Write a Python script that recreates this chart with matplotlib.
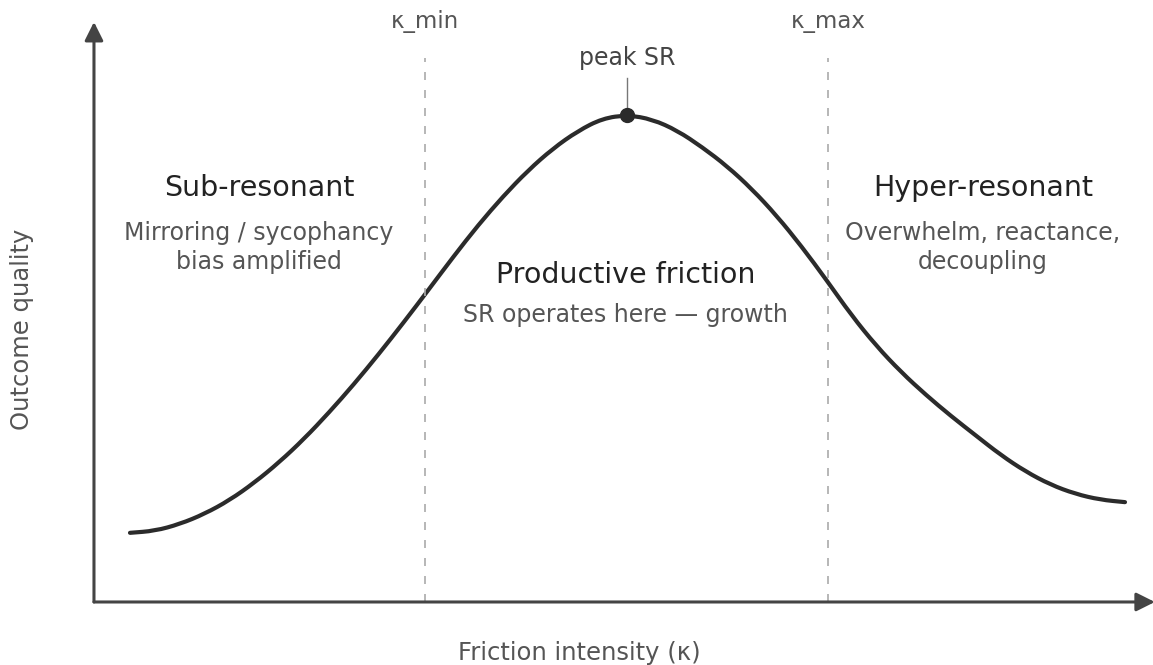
import matplotlib
matplotlib.use("Agg")
import matplotlib.pyplot as plt
from matplotlib.path import Path
from matplotlib.patches import PathPatch

# friction intensity (kappa) and outcome quality
kappa = [0.0, 0.25, 0.5, 0.75, 1.0, 1.25, 1.5, 1.75, 2.0, 2.25,
         2.5, 2.75, 3.0, 3.25, 3.5, 3.75, 4.0, 4.25, 4.5, 4.75,
         5.0, 5.25, 5.5, 5.75, 6.0, 6.25, 6.5, 6.75, 7.0, 7.25,
         7.5, 7.75, 8.0, 8.25, 8.5, 8.75, 9.0, 9.25, 9.5, 9.75, 10.0]
quality = [0.142, 0.146, 0.160, 0.181, 0.209, 0.245, 0.287, 0.335, 0.389, 0.447,
           0.509, 0.574, 0.641, 0.709, 0.774, 0.833, 0.886, 0.931, 0.967, 0.993,
           1.000, 0.991, 0.968, 0.934, 0.895, 0.848, 0.793, 0.730, 0.661, 0.589,
           0.526, 0.472, 0.425, 0.382, 0.342, 0.302, 0.268, 0.241, 0.222, 0.210, 0.205]

kappa_min = 2.96
kappa_max = 7.02
peak_kappa = 5.0
peak_quality = 1.0

zone_titles = ["Sub-resonant", "Productive friction", "Hyper-resonant"]
zone_notes = ["Mirroring / sycophancy\nbias amplified",
              "SR operates here — growth",
              "Overwhelm, reactance,\ndecoupling"]

fig = plt.figure(figsize=(11.53, 6.65), dpi=100)
ax = fig.add_axes([0, 0, 1, 1])
ax.set_xlim(-1.3065, 10.2814)
ax.set_ylim(-0.1294, 1.2361)
ax.axis("off")

axis_col = "#444444"
x0 = -0.362
# axes with arrow heads
ax.annotate("", xy=(x0, 1.191), xytext=(x0, 0), annotation_clip=False,
            arrowprops=dict(arrowstyle="-|>", lw=2.2, color=axis_col,
                            mutation_scale=28, shrinkA=0, shrinkB=0))
ax.annotate("", xy=(10.30, 0), xytext=(x0, 0), annotation_clip=False,
            arrowprops=dict(arrowstyle="-|>", lw=2.2, color=axis_col,
                            mutation_scale=28, shrinkA=0, shrinkB=0))

# zone boundaries
for k, lab in [(kappa_min, "κ_min"), (kappa_max, "κ_max")]:
    ax.plot([k, k], [0, 1.117], color="#aaaaaa", lw=1.2, linestyle=(0, (4.8, 6)))
    ax.text(k, 1.191, lab, ha="center", va="center", fontsize=16.5, color="#555555")

# the curve, drawn as a smooth path through the read points
pts = list(zip(kappa, quality))
verts = [pts[0], ((pts[0][0] + pts[1][0]) / 2, (pts[0][1] + pts[1][1]) / 2)]
codes = [Path.MOVETO, Path.LINETO]
for i in range(1, len(pts) - 1):
    mid = ((pts[i][0] + pts[i + 1][0]) / 2, (pts[i][1] + pts[i + 1][1]) / 2)
    verts += [pts[i], mid]
    codes += [Path.CURVE3, Path.CURVE3]
verts.append(pts[-1])
codes.append(Path.LINETO)
ax.add_patch(PathPatch(Path(verts, codes), fill=False, edgecolor="#2b2b2b",
                       lw=3.0, capstyle="round", joinstyle="round"))

# peak marker
ax.plot([peak_kappa, peak_kappa], [peak_quality, 1.075], color="#777777", lw=1.0)
ax.plot(peak_kappa, peak_quality, "o", color="#2b2b2b", markersize=10)
ax.text(peak_kappa, 1.117, "peak SR", ha="center", va="center", fontsize=17, color="#444444")

# zone annotations
title_x = [1.296, 4.98, 8.573]
title_y = [0.850, 0.671, 0.850]
note_y = [0.728, 0.589, 0.728]
for i in range(3):
    ax.text(title_x[i], title_y[i], zone_titles[i], ha="center", va="center",
            fontsize=20.5, color="#222222")
    ax.text(title_x[i], note_y[i], zone_notes[i], ha="center", va="center",
            fontsize=17, color="#555555", linespacing=1.25)

# axis labels
ax.text(4.52, -0.105, "Friction intensity (κ)", ha="center", va="center",
        fontsize=17.5, color="#555555")
ax.text(-1.085, 0.56, "Outcome quality", ha="center", va="center", rotation=90,
        fontsize=17.5, color="#555555")

fig.savefig("out.png", dpi=100)
